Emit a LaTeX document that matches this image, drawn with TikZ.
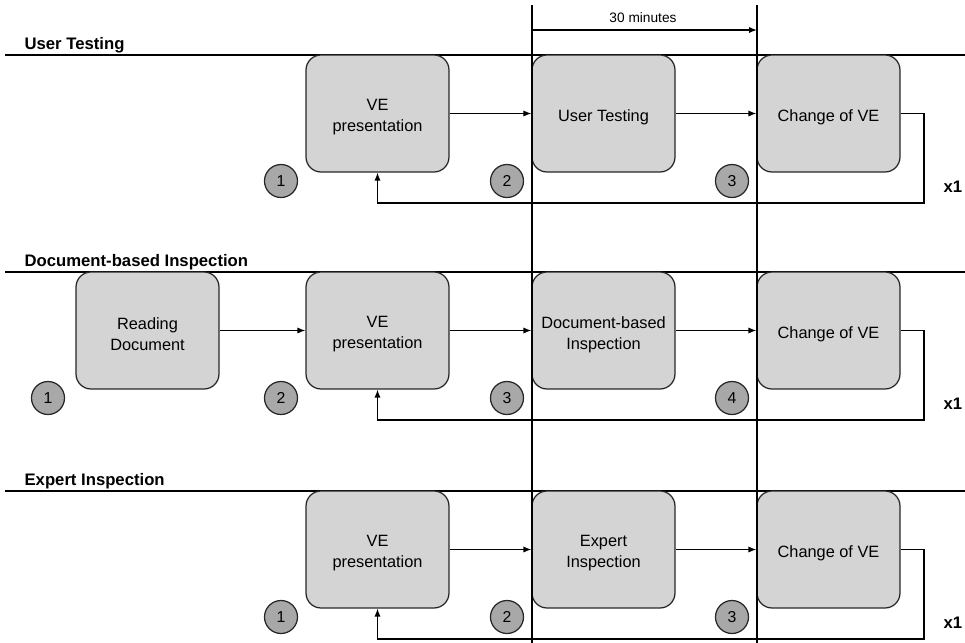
\documentclass[tikz,border=0pt]{standalone}
\usepackage{fontspec}
\setmainfont{Liberation Sans}
\usetikzlibrary{arrows.meta}
\definecolor{boxgray}{HTML}{D4D4D4}
\definecolor{dotgray}{HTML}{A8A8A8}
\definecolor{edgegray}{HTML}{262626}

\begin{document}
\begin{tikzpicture}[x=0.02cm,y=-0.02cm,line width=0.7pt,
  >={Latex[length=4.5pt,width=3.5pt]},
  stage/.style={draw=edgegray,fill=boxgray,rounded corners=0.3cm,
    minimum width=2.86cm,minimum height=2.34cm,
    label={[yshift=-2.2pt,align=center,font=\fontsize{9.3}{12}\selectfont]center:#1}},
  num/.style={circle,draw=edgegray,fill=dotgray,minimum size=0.66cm,
    inner sep=0pt,font=\fontsize{9}{10}\selectfont},
  method/.style={anchor=base west,inner sep=0pt,font=\fontsize{9.5}{11}\selectfont\bfseries},
  times/.style={anchor=base west,inner sep=0pt,font=\fontsize{9.5}{11}\selectfont\bfseries}]
\useasboundingbox (0,0) rectangle (965,643);

% User Testing
\node[method] (t1) at (24,49) {User Testing};
\draw (5,55) -- (965,55);
\node[stage={VE\\presentation}] (ve1) at (377.5,113.5) {};
\node[stage={User Testing}] (ut1) at (603.5,113.5) {};
\node[stage={Change of VE}] (ch1) at (828.5,113.5) {};
\node[num] (n11) at (281,181) {1};
\node[num] (n12) at (507,181) {2};
\node[num] (n13) at (732,181) {3};
\node[times] (x1a) at (943,192) {x1};
\coordinate (back1) at (924,203);
\draw[->] (ve1) -- (ut1);
\draw[->] (ut1) -- (ch1);
\draw[->] (ch1.east) -| (back1) -| (ve1.south);

% Document-based Inspection
\node[method] (t2) at (24,266) {Document-based Inspection};
\draw (5,272) -- (965,272);
\node[stage={Reading\\Document}] (rd2) at (147.5,330.5) {};
\node[stage={VE\\presentation}] (ve2) at (377.5,330.5) {};
\node[stage={Document-based\\Inspection}] (di2) at (603.5,330.5) {};
\node[stage={Change of VE}] (ch2) at (828.5,330.5) {};
\node[num] (n21) at (48,398) {1};
\node[num] (n22) at (281,398) {2};
\node[num] (n23) at (507,398) {3};
\node[num] (n24) at (732,398) {4};
\node[times] (x1b) at (943,409) {x1};
\coordinate (back2) at (924,420);
\draw[->] (rd2) -- (ve2);
\draw[->] (ve2) -- (di2);
\draw[->] (di2) -- (ch2);
\draw[->] (ch2.east) -| (back2) -| (ve2.south);

% Expert Inspection
\node[method] (t3) at (24,485) {Expert Inspection};
\draw (5,491) -- (965,491);
\node[stage={VE\\presentation}] (ve3) at (377.5,549.5) {};
\node[stage={Expert\\Inspection}] (ei3) at (603.5,549.5) {};
\node[stage={Change of VE}] (ch3) at (828.5,549.5) {};
\node[num] (n31) at (281,617) {1};
\node[num] (n32) at (507,617) {2};
\node[num] (n33) at (732,617) {3};
\node[times] (x1c) at (943,628) {x1};
\coordinate (back3) at (924,639);
\draw[->] (ve3) -- (ei3);
\draw[->] (ei3) -- (ch3);
\draw[->] (ch3.east) -| (back3) -| (ve3.south);

% 30 minutes window
\foreach \x in {532,757}
  \draw (\x,5) -- (\x,643);
\coordinate (m0) at (532,30);
\coordinate (m1) at (757,30);
\draw[->] (m0) -- (m1);
\node[font=\fontsize{7.8}{9}\selectfont] (dur) at (643,18) {30 minutes};

\end{tikzpicture}
\end{document}
